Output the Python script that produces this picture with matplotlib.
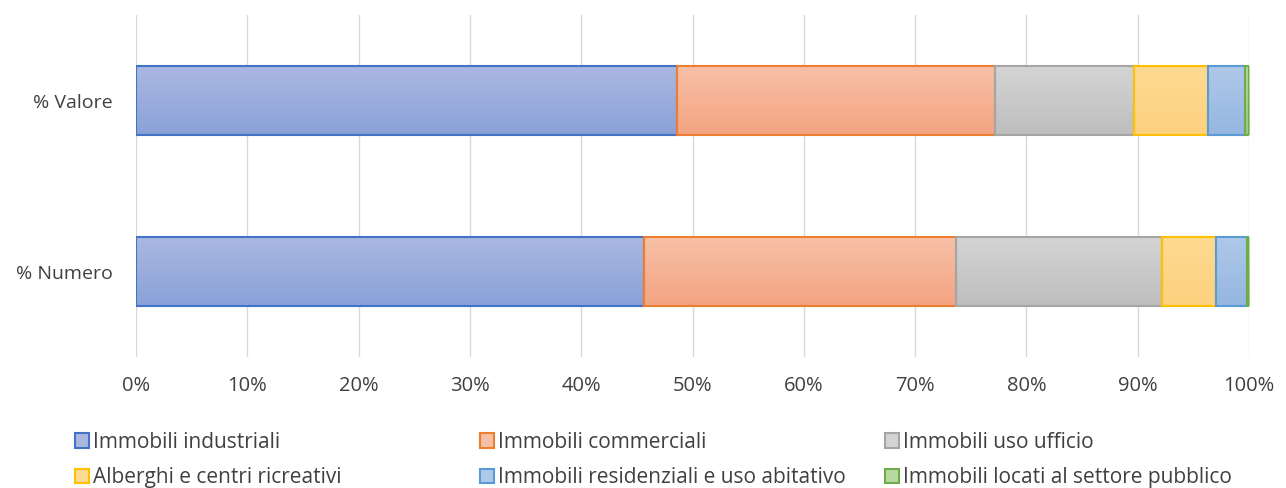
import numpy as np
import matplotlib
matplotlib.use("Agg")
import matplotlib.pyplot as plt
from matplotlib.colors import LinearSegmentedColormap
from matplotlib.patches import Patch

categorie = ["% Numero", "% Valore"]
serie = ["Immobili industriali", "Immobili commerciali", "Immobili uso ufficio",
         "Alberghi e centri ricreativi", "Immobili residenziali e uso abitativo",
         "Immobili locati al settore pubblico"]
# valori in percentuale, ordine: % Numero, % Valore
industriali = [45.6, 48.6]
commerciali = [28.1, 28.6]
ufficio = [18.5, 12.5]
alberghi = [4.8, 6.6]
residenziali = [2.8, 3.3]
pubblico = [0.2, 0.4]
valori = [industriali, commerciali, ufficio, alberghi, residenziali, pubblico]

bordi = ["#4472C4", "#ED7D31", "#A5A5A5", "#FFC000", "#5B9BD5", "#70AD47"]
sopra = ["#AAB8E1", "#F7C0A6", "#D4D4D4", "#FEDA92", "#AFC8E9", "#B5D9A0"]
sotto = ["#8AA1D8", "#F4A482", "#BEBEBE", "#FDD17E", "#95B7E1", "#9CCB80"]

plt.rcParams['font.family'] = ['Open Sans', 'DejaVu Sans']

fig = plt.figure(figsize=(12.86, 4.88), dpi=100)
ax = fig.add_axes([0.1058, 0.2684, 0.8655, 0.7006])

y = np.arange(len(categorie))
left = np.zeros(len(categorie))
for i, v in enumerate(valori):
    bars = ax.barh(y, v, left=left, height=0.4, facecolor="none",
                   edgecolor=bordi[i], linewidth=1.5, zorder=3)
    cmap = LinearSegmentedColormap.from_list("g%d" % i, [sotto[i], sopra[i]])
    for b in bars:
        x0, y0 = b.get_x(), b.get_y()
        w, h = b.get_width(), b.get_height()
        im = ax.imshow(np.linspace(0, 1, 50).reshape(-1, 1), cmap=cmap,
                       extent=(x0, x0 + w, y0, y0 + h), origin="lower",
                       aspect="auto", interpolation="bilinear", zorder=2)
        im.set_clip_path(b)
    left += np.array(v)

ax.set_xlim(0, 100)
ax.set_ylim(-0.5, 1.5)
ax.set_xticks(np.arange(0, 101, 10))
ax.set_xticklabels(["%d%%" % t for t in range(0, 101, 10)], fontsize=14.5, color="#404040")
ax.set_yticks(y)
ax.set_yticklabels(categorie, fontsize=14, color="#404040")
ax.tick_params(length=0)
ax.tick_params(axis="x", pad=14)
ax.tick_params(axis="y", pad=17)
ax.grid(axis="x", color="#D9D9D9", linewidth=1, zorder=0)
for s in ax.spines.values():
    s.set_visible(False)

maniglie = [Patch(facecolor=sopra[i], edgecolor=bordi[i], linewidth=1.5) for i in range(6)]
colonne_x = [0.0515, 0.3665, 0.6815]
for c in range(3):
    fig.legend([maniglie[c], maniglie[c + 3]], [serie[c], serie[c + 3]],
               loc="upper left", bbox_to_anchor=(colonne_x[c], 0.132),
               frameon=False, fontsize=15, handlelength=0.7, handleheight=0.7,
               handletextpad=0.2, labelspacing=0.68, borderaxespad=0,
               labelcolor="#404040")

fig.savefig("out.png", dpi=100)
